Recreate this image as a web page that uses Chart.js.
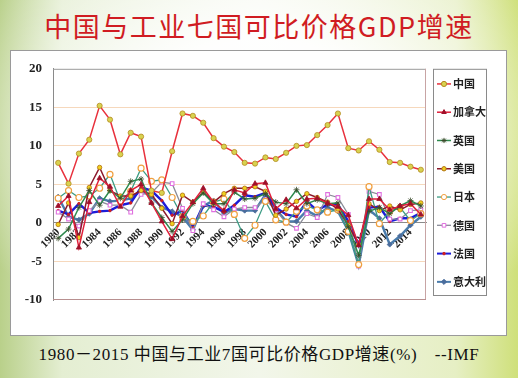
<!DOCTYPE html>
<html>
<head>
<meta charset="utf-8">
<script src="https://cdn.jsdelivr.net/npm/chart.js@4"></script>
<style>
html,body{margin:0;padding:0;}
body{width:518px;height:378px;position:relative;overflow:hidden;
 background:
  radial-gradient(ellipse 320px 230px at 50% 35%, rgba(255,255,255,0.95) 40%, rgba(255,255,255,0) 100%),
  linear-gradient(90deg, #b9d08a 0%, #e4eed2 12%, #f2f6ea 50%, #e6efc4 88%, #cfe07a 100%);
}
#title{position:absolute;left:0;top:6px;width:518px;text-align:center;font-family:"Noto Sans CJK SC";font-size:27px;letter-spacing:1.5px;color:#d01c22;line-height:40px;}
#box{position:absolute;left:10px;top:50px;width:495px;height:284px;background:#fff;border:1px solid #9a9a9a;}
#c{position:absolute;left:10px;top:50px;}
#cap{position:absolute;left:0;top:343px;width:518px;text-align:center;font-family:"Liberation Serif","Noto Sans CJK SC";font-size:17px;letter-spacing:0.6px;color:#111;line-height:24px;}
</style>
</head>
<body>
<div id="title">中国与工业七国可比价格GDP增速</div>
<div id="box"></div>
<canvas id="c" width="497" height="286"></canvas>
<div id="cap">1980－2015 中国与工业7国可比价格GDP增速(%)　--IMF</div>
<script>
const years = [];
for (let y = 1980; y <= 2015; y++) years.push(String(y));
const seriesNames = ["中国","加拿大","英国","美国","日本","德国","法国","意大利"];
const china  = [7.8,5.1,9.0,10.8,15.2,13.4,8.9,11.7,11.2,4.2,3.9,9.3,14.2,13.9,13.0,11.0,9.9,9.2,7.8,7.7,8.5,8.3,9.1,10.0,10.1,11.4,12.7,14.2,9.7,9.4,10.6,9.5,7.9,7.8,7.3,6.9];
const canada = [2.2,3.5,-3.2,2.7,5.8,4.7,2.1,4.2,5.0,2.6,0.2,-2.1,0.9,2.7,4.5,2.7,1.6,4.3,3.9,5.1,5.2,1.8,3.0,1.9,3.1,3.2,2.6,2.1,1.0,-2.9,3.1,3.1,1.7,2.2,2.5,1.1];
const uk     = [-2.0,-0.8,2.0,4.2,2.3,4.2,3.2,5.4,5.7,2.6,0.7,-1.1,0.4,2.5,3.9,2.5,2.5,4.0,3.1,3.2,3.8,2.7,2.5,4.3,2.5,3.0,2.5,2.6,-0.5,-4.2,1.5,2.0,1.2,2.2,2.9,2.2];
const us     = [-0.2,2.6,-1.9,4.6,7.2,4.2,3.5,3.5,4.2,3.7,1.9,-0.1,3.6,2.7,4.0,2.7,3.8,4.5,4.5,4.7,4.1,1.0,1.8,2.8,3.8,3.3,2.7,1.8,-0.3,-2.8,2.5,1.6,2.2,1.7,2.4,2.6];
const japan  = [3.2,4.2,3.3,3.5,4.5,6.3,2.8,4.1,7.1,5.4,5.6,3.3,0.8,0.2,0.9,2.7,3.1,1.1,-2.0,-0.3,2.8,0.4,0.1,1.5,2.2,1.7,1.4,1.7,-1.1,-5.4,4.7,-0.1,1.5,2.0,0.3,1.2];
const germany= [1.4,0.5,-0.4,1.6,2.8,2.3,2.3,1.4,3.7,3.9,5.3,5.1,1.9,-1.0,2.5,1.7,0.8,1.8,2.0,2.0,3.0,1.7,0.0,-0.7,1.2,0.7,3.7,3.3,1.1,-5.6,4.1,3.7,0.5,0.5,1.6,1.7];
const france = [1.6,1.1,2.5,1.3,1.5,1.6,2.3,2.6,4.6,4.2,2.9,1.0,1.6,-0.6,2.3,2.1,1.4,2.3,3.6,3.4,3.9,2.0,1.1,0.8,2.8,1.6,2.4,2.4,0.2,-2.9,2.0,2.1,0.2,0.6,0.6,1.3];
const italy  = [3.4,0.8,0.4,1.2,3.2,2.8,2.9,3.2,4.2,3.4,2.0,1.5,0.8,-0.9,2.2,2.9,1.3,1.8,1.6,1.6,3.7,1.8,0.2,0.2,1.6,0.9,2.0,1.5,-1.0,-5.5,1.7,0.6,-2.8,-1.7,-0.3,0.8];
const yTicks = [-10,-5,0,5,10,15,20];

const values = [china,canada,uk,us,japan,germany,france,italy];
const styles = [
 {line:'#e8303c', w:1.5, ps:'circle', r:2.6, bg:'#d8d250', bc:'#b48a20', bw:0.8},
 {line:'#e0203c', w:1.5, ps:'triangle', r:3, bg:'#a0102a', bc:'#a0102a', bw:0.8},
 {line:'#2e8a4e', w:1.5, ps:'star', r:3, bg:'#3a4a2a', bc:'#3a4a2a', bw:0.8},
 {line:'#8c1a2c', w:1.5, ps:'circle', r:2.2, bg:'#f0d020', bc:'#b07010', bw:0.8},
 {line:'#3c9c84', w:1.3, ps:'circle', r:3, bg:'#ffffff', bc:'#f0a040', bw:1.2},
 {line:'#8a8c98', w:1.3, ps:'rect', r:2.6, bg:'#ffffff', bc:'#e070e0', bw:1.1},
 {line:'#1c1cd8', w:2.4, ps:'circle', r:1.3, bg:'#d02020', bc:'#d02020', bw:0.8},
 {line:'#4a7cac', w:2.4, ps:'rectRot', r:2.6, bg:'#4a6c9c', bc:'#4a6c9c', bw:0.8}
];

const datasets = seriesNames.map((n,i)=>({
  label:n, data:values[i], borderColor:styles[i].line, borderWidth:styles[i].w,
  pointStyle:styles[i].ps, pointRadius:styles[i].r, pointBackgroundColor:styles[i].bg,
  pointBorderColor:styles[i].bc, pointBorderWidth:styles[i].bw, tension:0, fill:false
}));

const frame = {
  id:'frame',
  afterDatasetsDraw(chart){
    const {ctx, chartArea:a} = chart;
    ctx.save();
    ctx.lineWidth = 1;
    ctx.strokeStyle = '#9a9a9a';
    ctx.beginPath(); ctx.moveTo(a.left, a.top+0.5); ctx.lineTo(a.right, a.top+0.5); ctx.stroke();
    ctx.strokeStyle = '#c8a4a4';
    ctx.beginPath(); ctx.moveTo(a.right-0.5, a.top); ctx.lineTo(a.right-0.5, a.bottom); ctx.stroke();
    ctx.strokeStyle = '#b89090';
    ctx.beginPath(); ctx.moveTo(a.left, a.bottom-0.5); ctx.lineTo(a.right, a.bottom-0.5); ctx.stroke();
    // legend
    const lx = a.right + 7, lw = 53, ly = a.top, lh = a.bottom - a.top - 5;
    ctx.strokeStyle = '#8a8a8a';
    ctx.strokeRect(lx+0.5, ly+0.5, lw, lh);
    const step = lh / seriesNames.length;
    ctx.font = 'bold 11px "Noto Sans CJK SC"';
    ctx.textBaseline = 'middle';
    ctx.textAlign = 'left';
    seriesNames.forEach((n,i)=>{
      const s = styles[i];
      const y = ly + step*(i+0.5) + 1;
      ctx.strokeStyle = s.line; ctx.lineWidth = Math.min(s.w, 2);
      ctx.beginPath(); ctx.moveTo(lx+4, y); ctx.lineTo(lx+18, y); ctx.stroke();
      ctx.fillStyle = s.bg; ctx.strokeStyle = s.bc; ctx.lineWidth = 1;
      Chart.helpers.drawPoint(ctx, {pointStyle:s.ps, radius:Math.min(s.r,2.6), rotation:0, borderWidth:1}, lx+11, y);
      ctx.fillStyle = '#222';
      ctx.fillText(n, lx+20, y);
    });
    ctx.restore();
  }
};

new Chart(document.getElementById('c'), {
  type:'line',
  data:{labels:years, datasets},
  options:{
    responsive:false, animation:false,
    layout:{padding:{top:18,right:81,bottom:36,left:0}},
    plugins:{legend:{display:false}, tooltip:{enabled:false}},
    scales:{
      x:{
        type:'category', offset:true, position:{y:0},
        grid:{display:false, drawTicks:false},
        border:{display:true, color:'#8a8a8a', width:1},
        ticks:{autoSkip:false, minRotation:45, maxRotation:45, padding:3,
          color:'#222', font:{family:'Liberation Serif', size:11, weight:'bold'},
          callback:function(v,i){ return i%2===0 ? this.getLabelForValue(v) : ''; }}
      },
      y:{
        min:-10, max:20,
        afterFit(s){ s.width = 43; },
        afterBuildTicks(s){ s.ticks = yTicks.map(v=>({value:v})); },
        grid:{drawTicks:false, color:(c)=> (c.tick && (c.tick.value===20||c.tick.value===-10||c.tick.value===0)) ? 'rgba(0,0,0,0)' : '#f6d8bc', lineWidth:1},
        border:{display:true, color:'#8a8a8a'},
        ticks:{padding:11, color:'#222', font:{family:'Liberation Serif', size:13, weight:'bold'}}
      }
    }
  },
  plugins:[frame]
});
</script>
</body>
</html>
